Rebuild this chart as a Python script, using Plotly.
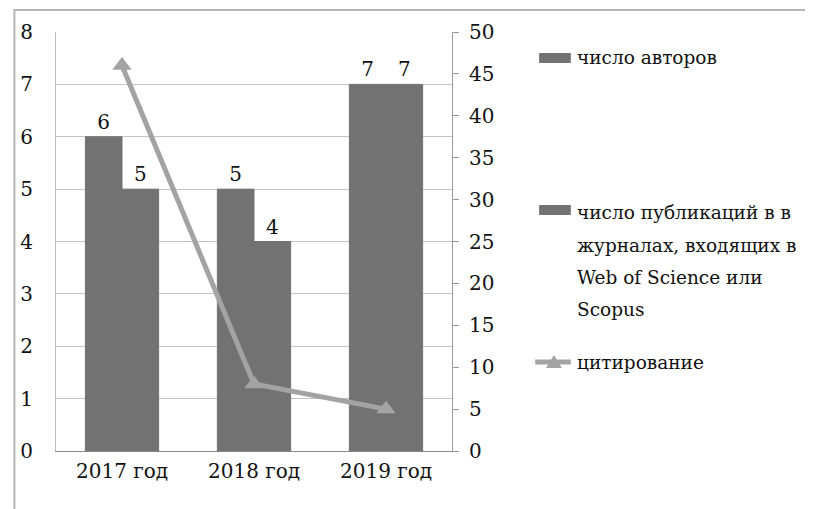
import plotly.graph_objects as go

years = ['2017 год', '2018 год', '2019 год']
authors = [6, 5, 7]
publications = [5, 4, 7]
citations = [46, 8, 5]

legend_names = ['число авторов',
                'число публикаций в в<br>журналах, входящих в<br>Web of Science или<br>Scopus',
                'цитирование']

FONT = 'DejaVu Serif'
FS = 20
LFS = 18.5
BAR = '#727272'
LINE = '#a3a3a3'

# page body has an 8px margin, so work in reference pixels minus 8
OFF = 8
W, H = 813 - OFF, 509 - OFF
L, R, T, B = 52 - OFF, 452 - OFF, 32 - OFF, 451 - OFF


def px(x):
    return (x - OFF - L) / (R - L)


def py(y):
    return (B - (y - OFF)) / (B - T)


fig = go.Figure()
fig.add_trace(go.Bar(x=years, y=authors, name=legend_names[0], marker_color=BAR,
                     marker_line=dict(width=1, color=BAR),
                     text=authors, textposition='outside',
                     textfont=dict(size=FS, color='#111', family=FONT), cliponaxis=False))
fig.add_trace(go.Bar(x=years, y=publications, name=legend_names[1], marker_color=BAR,
                     marker_line=dict(width=1, color=BAR),
                     text=publications, textposition='outside',
                     textfont=dict(size=FS, color='#111', family=FONT), cliponaxis=False))
fig.add_trace(go.Scatter(x=years, y=citations, name=legend_names[2], yaxis='y2',
                         mode='lines+markers', line=dict(color=LINE, width=5),
                         marker=dict(symbol='triangle-up', size=17, color=LINE),
                         cliponaxis=False))

fig.update_layout(
    width=W, height=H,
    margin=dict(l=L, r=W - R, t=T, b=H - B),
    paper_bgcolor='white', plot_bgcolor='white',
    font=dict(family=FONT, size=FS, color='#111'),
    showlegend=False,
    barmode='group', bargap=0.445, bargroupgap=0,
    xaxis=dict(showline=True, linecolor='#888', linewidth=1, ticks='',
               tickfont=dict(size=FS, family=FONT), ticklabelstandoff=2),
    yaxis=dict(range=[0, 8], dtick=1, showgrid=True, gridcolor='#c4c4c4', gridwidth=1,
               showline=True, linecolor='#bbb', zeroline=False,
               ticklabelstandoff=18, tickfont=dict(size=FS, family=FONT)),
    yaxis2=dict(range=[0, 50], dtick=5, overlaying='y', side='right', showgrid=False,
                showline=True, linecolor='#999', ticks='outside', ticklen=6, tickcolor='#999',
                zeroline=False, ticklabelstandoff=6, tickfont=dict(size=FS, family=FONT)),
)

# outer frame of the chart
fig.add_shape(type='rect', xref='paper', yref='paper',
              x0=px(10), x1=px(811), y0=py(530), y1=py(10),
              line=dict(color='#b5b5b5', width=2), fillcolor='rgba(0,0,0,0)')

# legend drawn by hand (Excel-like spacing)
lx = 576
fig.add_shape(type='rect', xref='paper', yref='paper', x0=px(540), x1=px(572),
              y0=py(63), y1=py(53), fillcolor=BAR, line=dict(width=0))
fig.add_shape(type='rect', xref='paper', yref='paper', x0=px(540), x1=px(572),
              y0=py(215), y1=py(205), fillcolor=BAR, line=dict(width=0))
fig.add_shape(type='line', xref='paper', yref='paper', x0=px(536), x1=px(572),
              y0=py(362), y1=py(362), line=dict(color=LINE, width=5))
fig.add_shape(type='path', xref='paper', yref='paper',
              path=f'M {px(547)} {py(368)} L {px(563)} {py(368)} L {px(555)} {py(355)} Z',
              fillcolor=LINE, line=dict(width=0))

legend_ys = [[58], [212, 245, 277, 309], [362]]
for name, ys in zip(legend_names, legend_ys):
    for y, t in zip(ys, name.split('<br>')):
        fig.add_annotation(x=px(lx), y=py(y), xref='paper', yref='paper', text=t,
                           showarrow=False, xanchor='left', yanchor='middle',
                           font=dict(size=LFS, color='#111', family=FONT))

fig.write_html('out.html')
